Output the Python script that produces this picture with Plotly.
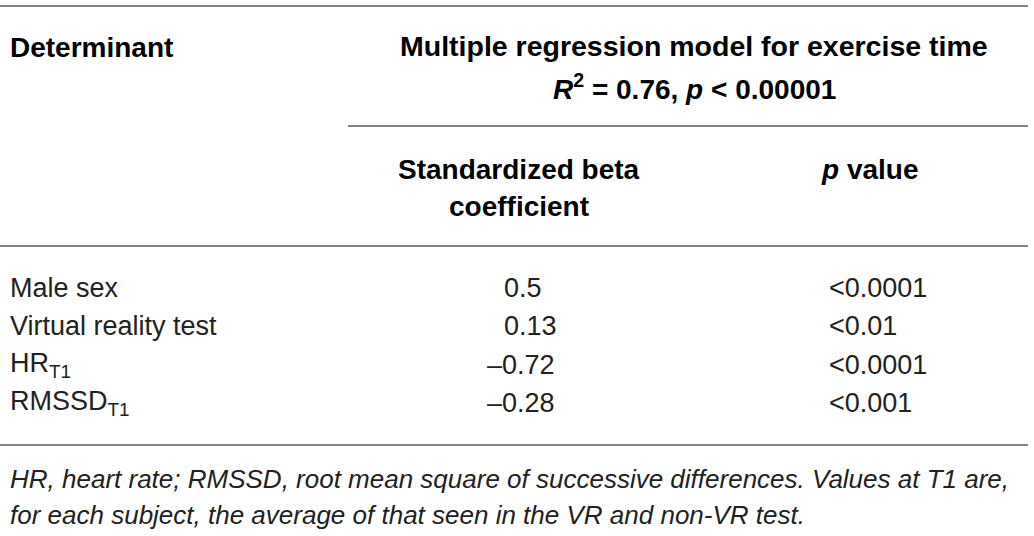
import plotly.graph_objects as go

# ---------------------------------------------------------------------------
# Table content
# ---------------------------------------------------------------------------

determinants = ["Male sex", "Virtual reality test", "HR<sub>T1</sub>", "RMSSD<sub>T1</sub>"]
beta_coefs = ["0.5", "0.13", "–0.72", "–0.28"]
p_values = ["<0.0001", "<0.01", "<0.0001", "<0.001"]

col_header = "Determinant"
model_header = "Multiple regression model for exercise time"
model_stats = "<i>R</i><sup>2</sup> = 0.76, <i>p</i> < 0.00001"
beta_header = ["Standardized beta", "coefficient"]
p_header = "<i>p</i> value"
footnote = [
    "HR, heart rate; RMSSD, root mean square of successive differences. Values at T1 are,",
    "for each subject, the average of that seen in the VR and non-VR test.",
]

W, H = 1034, 536
FONT = "Liberation Sans, Arial, sans-serif"
INK = "#222222"
RULE = "#858585"

fig = go.Figure()


def text(x, y, s, anchor="left", bold=False, size=27, italic=False):
    if bold:
        s = f"<b>{s}</b>"
    if italic:
        s = f"<i>{s}</i>"
    fig.add_annotation(
        x=x, y=y, xref="x", yref="y", text=s, showarrow=False,
        xanchor=anchor, yanchor="middle",
        font=dict(family=FONT, size=size, color="#000" if bold else INK),
    )


def rule(x0, x1, y):
    fig.add_shape(type="line", x0=x0, x1=x1, y0=y, y1=y, xref="x", yref="y",
                  line=dict(color=RULE, width=2))


# rules
rule(0, 1028, 6)
rule(348, 1028, 126)
rule(0, 1028, 246)
rule(0, 1028, 445)

# header
text(8, 47, col_header, bold=True, size=28)
text(694, 46, model_header, anchor="center", bold=True, size=28.5)
text(694, 87, model_stats, anchor="center", bold=True, size=28)
text(519, 169, beta_header[0], anchor="center", bold=True, size=28)
text(519, 206, beta_header[1], anchor="center", bold=True, size=28)
text(870, 169, p_header, anchor="center", bold=True, size=28)

# body rows
row_y = [288, 326, 365, 403]
for y, name, b, p in zip(row_y, determinants, beta_coefs, p_values):
    text(8, y, name)
    text(502 - (17 if b.startswith("–") else 0), y, b)
    text(827, y, p)

# footnote
text(8, 479, footnote[0], italic=True, size=26)
text(8, 515, footnote[1], italic=True, size=26)

fig.update_layout(
    width=W, height=H,
    margin=dict(l=0, r=0, t=0, b=0),
    paper_bgcolor="white", plot_bgcolor="white",
    xaxis=dict(range=[0, W], visible=False, fixedrange=True),
    yaxis=dict(range=[H, 0], visible=False, fixedrange=True),
    showlegend=False,
)

# drop the default page margin so the table sits flush with the window
fig.write_html(
    "out.html",
    config={"displayModeBar": False},
    post_script="document.body.style.margin = '0';",
)
